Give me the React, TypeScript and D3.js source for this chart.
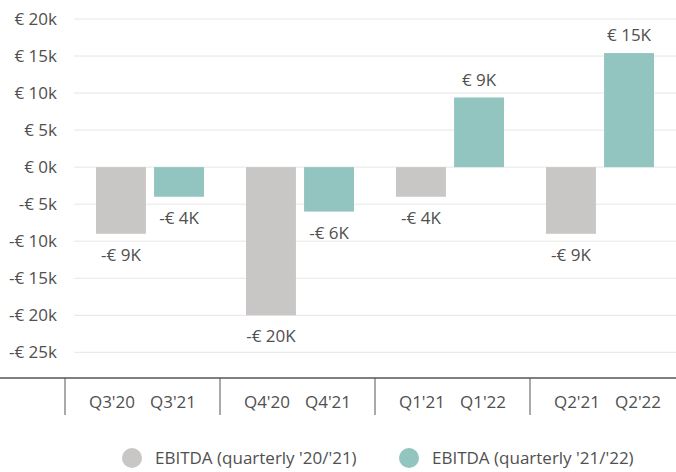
import React from 'react';
import * as d3 from 'd3';

const quarters = ['Q3', 'Q4', 'Q1', 'Q2'];
const labelsPrev = ["Q3'20", "Q4'20", "Q1'21", "Q2'21"];
const labelsCurr = ["Q3'21", "Q4'21", "Q1'22", "Q2'22"];
const ebitdaPrev = [-9000, -20000, -4000, -9000];
const ebitdaCurr = [-4000, -6000, 9400, 15400];
const seriesNames = ["EBITDA (quarterly '20/'21)", "EBITDA (quarterly '21/'22)"];
const yTicks = [-25000, -20000, -15000, -10000, -5000, 0, 5000, 10000, 15000, 20000];

const colors = ['#c8c7c6', '#92c4c0'];
const textColor = '#505050';
const font = '"Open Sans", sans-serif';
const fs = 17;

const width = 676;
const height = 472;

function tickFmt(v: number) {
  return (v < 0 ? '-€ ' : '€ ') + Math.abs(v / 1000) + 'k';
}

function valueFmt(v: number) {
  return (v < 0 ? '-€ ' : '€ ') + Math.round(Math.abs(v) / 1000) + 'K';
}

export default function App() {
  const y = d3.scaleLinear().domain([-25000, 20000]).range([352.3, 19]);

  // bars
  const x0 = d3.scaleBand().domain(quarters).range([75, 675]);
  const x1 = d3.scaleBand<number>().domain([0, 1]).range([21, 129]).paddingInner(0.14);

  // category axis (sits a bit wider than the bars)
  const xa = d3.scaleBand().domain(quarters).range([65, 685]);
  const xaInner = d3.scalePoint<number>().domain([0, 1]).range([0, xa.bandwidth()]).padding(0.77);

  const series = [ebitdaPrev, ebitdaCurr];
  const axisY = 378;

  return (
    <svg width={width} height={height} style={{ position: 'absolute', left: 0, top: 0 }} fontFamily={font}>
      <g>
        {yTicks.map(t => (
          <g key={t}>
            <line x1={74} x2={width} y1={y(t)} y2={y(t)} stroke="#e6e6e6" strokeWidth={1} />
            <text x={57} y={y(t)} dy="0.35em" textAnchor="end" fontSize={fs} fill={textColor}>
              {tickFmt(t)}
            </text>
          </g>
        ))}
      </g>
      <g>
        {quarters.map((q, i) => (
          <g key={q} transform={`translate(${x0(q)},0)`}>
            {series.map((s, j) => {
              const v = s[i];
              const top = y(Math.max(0, v));
              const h = Math.abs(y(v) - y(0));
              const cx = (x1(j) as number) + x1.bandwidth() / 2;
              return (
                <g key={j}>
                  <rect x={x1(j)} y={top} width={x1.bandwidth()} height={h} fill={colors[j]} />
                  <text
                    x={cx}
                    y={v < 0 ? y(v) + 27 : y(v) - 12}
                    textAnchor="middle"
                    fontSize={fs}
                    fill={textColor}
                  >
                    {valueFmt(v)}
                  </text>
                </g>
              );
            })}
          </g>
        ))}
      </g>
      <g>
        <line x1={0} x2={width} y1={axisY} y2={axisY} stroke="#555" strokeWidth={1.5} />
        {quarters.map((q, i) => (
          <g key={q} transform={`translate(${xa(q)},0)`}>
            <line x1={0} x2={0} y1={axisY} y2={415} stroke="#555" strokeWidth={1} />
            {[labelsPrev[i], labelsCurr[i]].map((l, j) => (
              <text key={l} x={xaInner(j)} y={407.5} textAnchor="middle" fontSize={fs} fill={textColor}>
                {l}
              </text>
            ))}
          </g>
        ))}
      </g>
      <g>
        {seriesNames.map((n, j) => (
          <g key={n} transform={`translate(${[132, 409][j]},458)`}>
            <circle r={10} fill={colors[j]} />
            <text x={23} dy="0.35em" fontSize={fs} fill={textColor}>{n}</text>
          </g>
        ))}
      </g>
    </svg>
  );
}
